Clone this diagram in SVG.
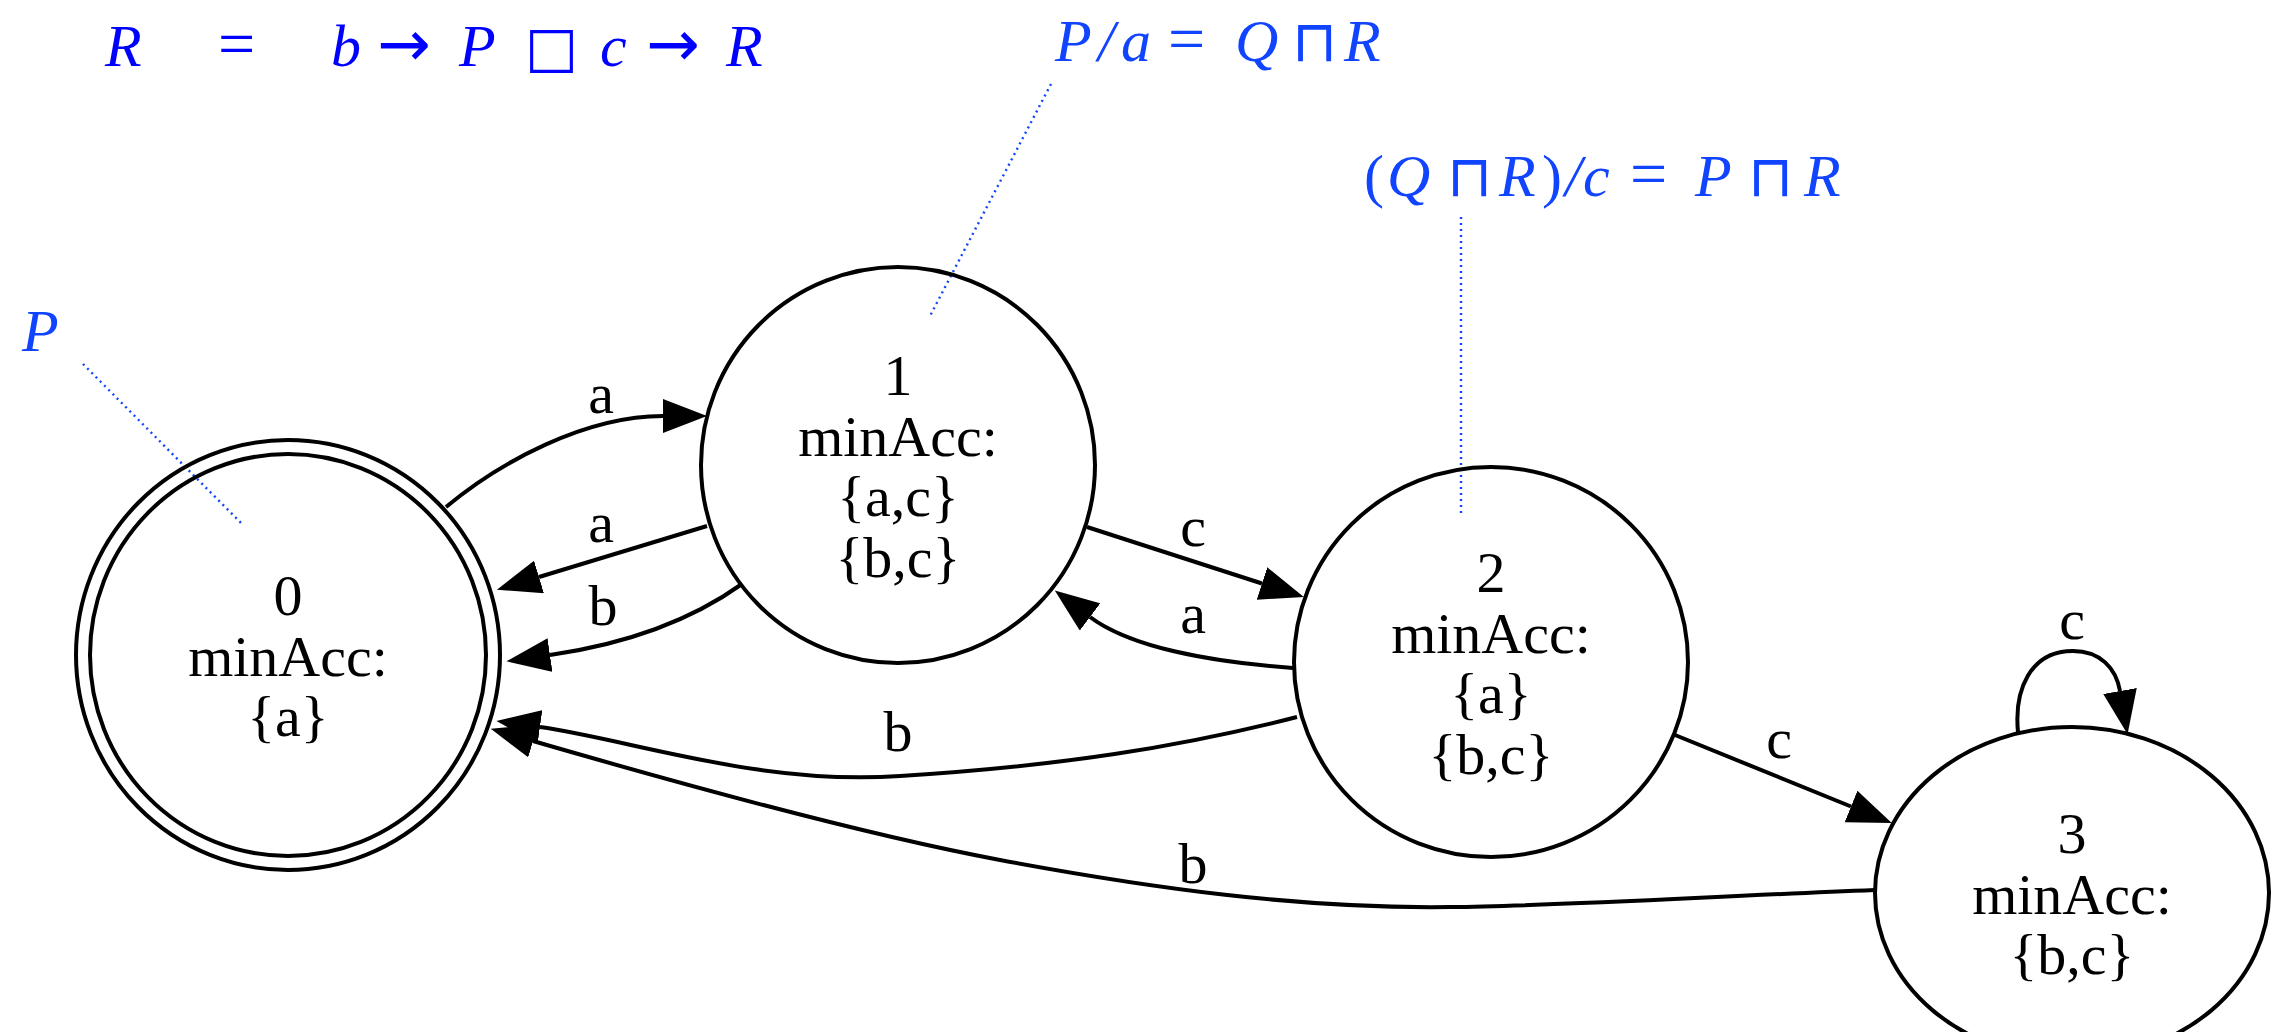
<svg xmlns="http://www.w3.org/2000/svg" width="2272" height="1032" viewBox="0 0 2272 1032">
<style>
.node ellipse{fill:none;stroke:#000;stroke-width:4}
.lbl{font-family:"Liberation Serif","Times New Roman",serif;font-size:58px;fill:#000;text-anchor:middle}
.edge path{fill:none;stroke:#000;stroke-width:4}
.ann{font-family:"Liberation Serif","Times New Roman",serif;font-size:60px;font-style:italic;fill:#1144ff}
.up{font-style:normal}
.sym{font-style:normal;font-family:"DejaVu Sans",sans-serif}
.dot{stroke:#1144ff;stroke-width:2.4;stroke-dasharray:2 4;fill:none}
</style>
<defs>
<marker id="ah" markerUnits="userSpaceOnUse" viewBox="0 0 44 34" refX="0" refY="17" markerWidth="44" markerHeight="34" orient="auto">
<path d="M0,0 L44,17 L0,34 z" fill="#000"/>
</marker>
</defs>
<rect width="2272" height="1032" fill="#fff"/>

<g id="annotations">
<text class="ann" y="66" style="fill:#0000ff"><tspan x="105">R</tspan><tspan x="218" class="up" style="font-size:66px">=</tspan><tspan x="331">b</tspan><tspan x="377" class="sym" style="font-size:64px">→</tspan><tspan x="459">P</tspan><tspan x="525" class="sym" style="font-size:56px">□</tspan><tspan x="600">c</tspan><tspan x="646" class="sym" style="font-size:64px">→</tspan><tspan x="726">R</tspan></text>
<text class="ann" y="61"><tspan x="1055">P</tspan><tspan x="1098">/</tspan><tspan x="1121">a</tspan><tspan x="1168" class="up" style="font-size:66px">=</tspan><tspan x="1235">Q</tspan><tspan x="1292" class="sym" style="font-size:58px">⊓</tspan><tspan x="1344">R</tspan></text>
<text class="ann" y="196"><tspan x="1364" class="up">(</tspan><tspan x="1387">Q</tspan><tspan x="1447" class="sym" style="font-size:58px">⊓</tspan><tspan x="1499">R</tspan><tspan x="1542" class="up">)</tspan><tspan x="1565">/</tspan><tspan x="1583">c</tspan><tspan x="1630" class="up" style="font-size:66px">=</tspan><tspan x="1695">P</tspan><tspan x="1748" class="sym" style="font-size:58px">⊓</tspan><tspan x="1804">R</tspan></text>
<text class="ann" x="22" y="351">P</text>
<line class="dot" x1="83" y1="364" x2="243" y2="525"/>
<line class="dot" x1="1051" y1="84" x2="930" y2="316"/>
<line class="dot" x1="1461" y1="217" x2="1461" y2="514"/>
</g>

<g id="node0" class="node">
<ellipse cx="288" cy="655" rx="212" ry="215"/>
<ellipse cx="288" cy="655" rx="198" ry="201"/>
<text class="lbl"><tspan x="288" y="615">0</tspan><tspan x="288" y="676">minAcc:</tspan><tspan x="288" y="736">{a}</tspan></text>
</g>
<g id="node1" class="node">
<ellipse cx="898" cy="465" rx="197" ry="198"/>
<text class="lbl"><tspan x="898" y="395">1</tspan><tspan x="898" y="456">minAcc:</tspan><tspan x="898" y="516">{a,c}</tspan><tspan x="898" y="577">{b,c}</tspan></text>
</g>
<g id="node2" class="node">
<ellipse cx="1491" cy="662" rx="197" ry="195"/>
<text class="lbl"><tspan x="1491" y="592">2</tspan><tspan x="1491" y="653">minAcc:</tspan><tspan x="1491" y="713">{a}</tspan><tspan x="1491" y="774">{b,c}</tspan></text>
</g>
<g id="node3" class="node">
<ellipse cx="2072" cy="893" rx="197" ry="166"/>
<text class="lbl"><tspan x="2072" y="853">3</tspan><tspan x="2072" y="914">minAcc:</tspan><tspan x="2072" y="974">{b,c}</tspan></text>
</g>

<g id="edges" class="edge">
<path d="M446,507 C500,462 585,416 663,416" marker-end="url(#ah)"/>
<text class="lbl" x="601" y="413">a</text>
<path d="M707,526 L539,577" marker-end="url(#ah)"/>
<text class="lbl" x="601" y="542">a</text>
<path d="M742,584 C700,614 640,642 550,655" marker-end="url(#ah)"/>
<text class="lbl" x="603" y="625">b</text>
<path d="M1087,527 L1262,583.5" marker-end="url(#ah)"/>
<text class="lbl" x="1193" y="546">c</text>
<path d="M1293,668 C1210,662 1130,647 1090,617" marker-end="url(#ah)"/>
<text class="lbl" x="1193" y="633">a</text>
<path d="M1297,717 C1180,747 1060,766 900,776 C760,786 630,739.5 540,727" marker-end="url(#ah)"/>
<text class="lbl" x="898" y="751">b</text>
<path d="M1875,890 C1700,897 1560,906 1450,907 C1300,909 1150,888 1000,860 C850,832 650,775 533,741" marker-end="url(#ah)"/>
<text class="lbl" x="1193" y="883">b</text>
<path d="M1675,735 L1851,806.5" marker-end="url(#ah)"/>
<text class="lbl" x="1779" y="758">c</text>
<path d="M2018,732 C2014,690 2030,651 2073,651 C2100,651 2116,668 2120,691" marker-end="url(#ah)"/>
<text class="lbl" x="2072" y="639">c</text>
</g>
</svg>
